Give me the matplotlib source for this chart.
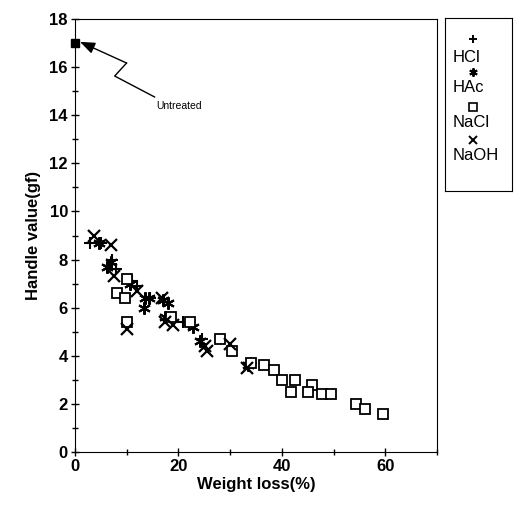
import matplotlib
matplotlib.use("Agg")
import matplotlib.pyplot as plt

plt.rcParams['font.family'] = ['Liberation Sans', 'DejaVu Sans']

# data
hcl_x = [3.0, 5.0, 7.2, 8.0, 11.0, 12.0, 14.5, 21.0, 22.0, 24.6, 34.0]
hcl_y = [8.7, 8.7, 8.0, 7.6, 7.1, 6.9, 6.4, 5.4, 5.3, 4.7, 3.7]

hac_x = [4.6, 6.2, 6.9, 10.7, 13.6, 14.3, 13.3, 17.0, 18.0, 17.5, 22.9, 24.2, 33.5]
hac_y = [8.7, 7.7, 7.9, 7.0, 6.4, 6.4, 6.0, 6.3, 6.2, 5.6, 5.2, 4.6, 3.6]

nacl_x = [8.1, 9.7, 10.0, 10.1, 18.6, 22.3, 28.1, 30.3, 34.0, 36.5, 38.5, 40.1, 42.6,
          41.8, 45.8, 45.1, 47.7, 49.5, 54.3, 56.1, 59.5]
nacl_y = [6.6, 6.4, 7.2, 5.4, 5.6, 5.4, 4.7, 4.2, 3.7, 3.6, 3.4, 3.0, 3.0,
          2.5, 2.8, 2.5, 2.4, 2.4, 2.0, 1.8, 1.6]

naoh_x = [3.8, 7.0, 7.5, 10.1, 12.0, 16.8, 17.5, 18.9, 25.2, 25.5, 30.0, 33.2]
naoh_y = [9.0, 8.6, 7.3, 5.1, 6.7, 6.4, 5.4, 5.3, 4.4, 4.2, 4.5, 3.5]

untreated_x = [0]
untreated_y = [17]

fig = plt.figure(figsize=(5.16, 5.07), dpi=100)
ax = fig.add_axes([0.145, 0.1085, 0.702, 0.854])

ax.plot(hcl_x, hcl_y, ls='none', marker='+', ms=8, mew=1.5, color='black')
ax.plot(hac_x, hac_y, ls='none', marker=(6, 2, 0), ms=9, mew=1.5, color='black')
ax.plot(nacl_x, nacl_y, ls='none', marker='s', ms=7, mew=1.3, mfc='white', color='black')
ax.plot(naoh_x, naoh_y, ls='none', marker='x', ms=8, mew=1.6, color='black')
ax.plot(untreated_x, untreated_y, ls='none', marker='s', ms=6, color='black', clip_on=False, zorder=5)

# zigzag pointer to the untreated sample
ax.plot([15.4, 7.7, 10.0], [14.76, 15.63, 16.17], color='black', lw=1)
ax.annotate('', xy=(1.0, 17.05), xytext=(10.0, 16.17),
            arrowprops=dict(arrowstyle='-|>,head_length=0.9,head_width=0.35',
                            color='black', lw=1, shrinkA=0, shrinkB=0))
ax.text(15.8, 14.4, 'Untreated', fontsize=7.5, ha='left', va='center')

ax.set_xlim(0, 70)
ax.set_ylim(0, 18)
ax.set_xticks([0, 20, 40, 60])
ax.set_xticks(range(0, 71, 10), minor=True)
ax.set_yticks(range(0, 19, 2))
ax.set_yticks(range(0, 19, 1), minor=True)
ax.tick_params(which='major', direction='inout', length=6, width=1, labelsize=12, pad=2)
ax.tick_params(which='minor', direction='inout', length=4, width=1)
for lab in ax.get_xticklabels() + ax.get_yticklabels():
    lab.set_fontweight('bold')

ax.set_xlabel('Weight loss(%)', fontsize=12, fontweight='bold', labelpad=2)
ax.set_ylabel('Handle value(gf)', fontsize=12, fontweight='bold', labelpad=6)

# legend drawn as a separate boxed panel
lg = fig.add_axes([0.862, 0.623, 0.13, 0.341])
lg.set_xlim(0, 1)
lg.set_ylim(0, 1)
lg.set_xticks([])
lg.set_yticks([])
entries = [('HCl', '+'), ('HAc', (6, 2, 0)), ('NaCl', 's'), ('NaOH', 'x')]
mark_y = [0.879, 0.688, 0.486, 0.295]
text_y = [0.775, 0.601, 0.399, 0.208]
for (name, m), my, ty in zip(entries, mark_y, text_y):
    if m == 's':
        lg.plot([0.42], [my], ls='none', marker=m, ms=5.5, mew=1.2, mfc='white', color='black')
    else:
        lg.plot([0.42], [my], ls='none', marker=m, ms=6, mew=1.4, color='black')
    lg.text(0.12, ty, name, fontsize=12, ha='left', va='center')

fig.savefig('out.png', dpi=100)
